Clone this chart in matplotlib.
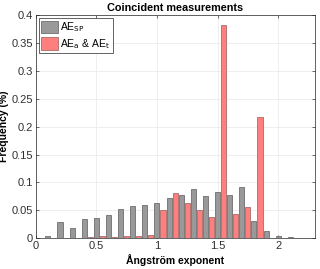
import numpy as np
import matplotlib.pyplot as plt

plt.rcParams['font.family'] = ['Liberation Sans', 'DejaVu Sans']

# bin centres of the Angstrom exponent histogram
bins = np.round(np.arange(0.1, 2.25, 0.1), 2)

# AE_SP frequencies (grey)
ae_sp = [0.004, 0.029, 0.018, 0.035, 0.036, 0.042, 0.052, 0.057, 0.0595, 0.0625,
         0.073, 0.077, 0.0875, 0.075, 0.083, 0.077, 0.091, 0.0315, 0.0125, 0.0035,
         0.0024, 0.0]

# AE_a & AE_t frequencies (red), shifted half a bin
ae_at = [0.0, 0.0, 0.0, 0.0024, 0.0036, 0.002, 0.005, 0.005, 0.006, 0.051,
         0.082, 0.064, 0.05, 0.0375, 0.3815, 0.0435, 0.0565, 0.2167, 0.0, 0.0,
         0.0, 0.0]

fig = plt.figure(figsize=(3.2, 2.69), dpi=100)
ax = fig.add_axes([0.1116, 0.114, 0.8714, 0.831])

w = 0.042
ax.bar(bins, ae_sp, width=w, color='#999999', edgecolor='#6e6e6e', linewidth=0.6,
       label=r'AE$_{\rm SP}$', zorder=3)
ax.bar(bins + 0.05, ae_at, width=w, color='#ff7f7f', edgecolor='#a86a6a', linewidth=0.6,
       label=r'AE$_{\rm a}$ & AE$_{\rm t}$', zorder=3)

ax.set_xlim(0, 2.3)
ax.set_ylim(0, 0.4)
ax.set_xticks([0, 0.5, 1, 1.5, 2])
ax.set_xticklabels(['0', '0.5', '1', '1.5', '2'])
ax.set_yticks(np.arange(0, 0.41, 0.05))
ax.set_yticklabels(['0', '0.05', '0.1', '0.15', '0.2', '0.25', '0.3', '0.35', '0.4'])
ax.grid(True, color='#ebebeb', linewidth=0.6, zorder=0)
ax.tick_params(direction='in', length=2.5, width=0.5, labelsize=8, colors='#303030',
               top=True, right=True, pad=2)
for s in ax.spines.values():
    s.set_color('#262626')
    s.set_linewidth(0.5)

ax.set_title('Coincident measurements', fontsize=7.8, fontweight='bold', pad=3)
ax.set_xlabel('Ångström exponent', fontsize=7.5, fontweight='bold', labelpad=2)
ax.set_ylabel('Frequency (%)', fontsize=7.5, fontweight='bold', labelpad=2)

leg = ax.legend(loc='upper left', fontsize=7.5, handlelength=1.6, handleheight=1.5,
                handletextpad=0.2, borderpad=0.25, labelspacing=0.25, borderaxespad=0.3,
                fancybox=False, framealpha=1, edgecolor='#262626')
leg.get_frame().set_linewidth(0.5)

fig.savefig('out.png', dpi=100)
